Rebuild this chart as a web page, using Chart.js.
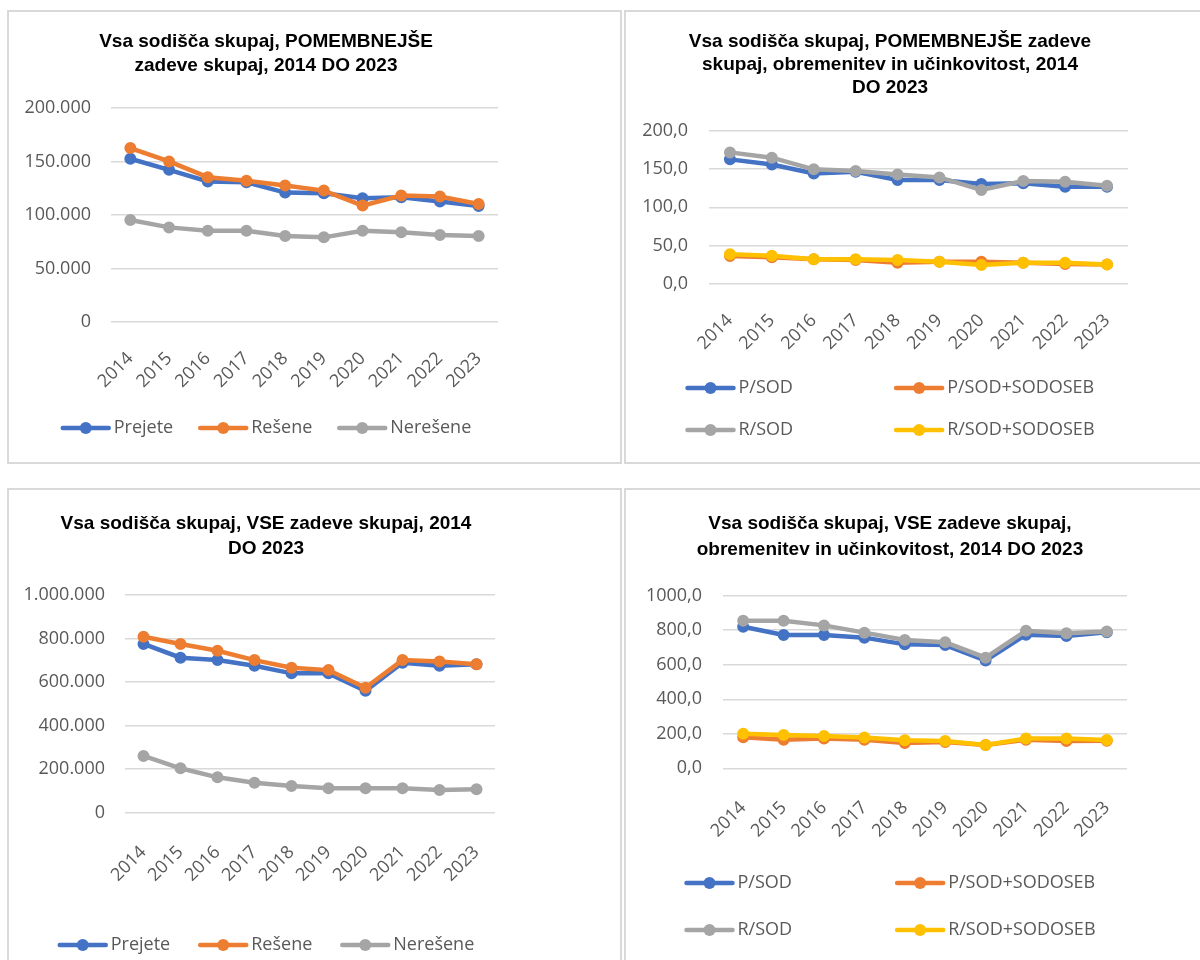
<!DOCTYPE html>
<html>
<head>
<meta charset="utf-8">
<script src="https://cdn.jsdelivr.net/npm/chart.js@4"></script>
<style>
  html, body { margin: 0; padding: 0; background: #fff; }
  body { width: 1200px; height: 960px; overflow: hidden; position: relative; }
  .frame { position: absolute; box-sizing: border-box; border: 2px solid #d9d9d9; background: #fff; }
  canvas { position: absolute; }
</style>
</head>
<body>
<div class="frame" style="left:7px;top:10px;width:615px;height:454px"></div>
<div class="frame" style="left:624px;top:10px;width:600px;height:454px"></div>
<div class="frame" style="left:7px;top:488px;width:615px;height:500px"></div>
<div class="frame" style="left:624px;top:488px;width:600px;height:500px"></div>

<canvas id="chart1" width="512" height="450" style="left:10px;top:13px"></canvas>
<canvas id="chart2" width="528" height="450" style="left:626px;top:13px"></canvas>
<canvas id="chart3" width="512" height="469" style="left:10px;top:491px"></canvas>
<canvas id="chart4" width="528" height="469" style="left:626px;top:491px"></canvas>

<script>
// categories
const years = ['2014', '2015', '2016', '2017', '2018', '2019', '2020', '2021', '2022', '2023'];

// POMEMBNEJSE zadeve
const prejetePom = [152500, 142200, 131300, 130600, 120900, 120300, 115600, 116500, 112500, 108400];
const resenePom = [162500, 150000, 135300, 131900, 127500, 122800, 108800, 118100, 117200, 110300];
const nerresenePom = [95300, 88400, 85300, 85300, 80300, 79100, 85300, 83800, 81300, 80300];

// POMEMBNEJSE obremenitev in ucinkovitost
const pSodPom = [162.6, 156.0, 144.3, 146.5, 135.7, 135.7, 130.4, 131.3, 127.0, 127.0];
const pSodSebPom = [36.5, 34.8, 32.2, 31.3, 27.8, 29.0, 29.0, 27.8, 26.0, 25.6];
const rSodPom = [171.7, 164.8, 149.6, 147.4, 143.0, 139.0, 122.6, 134.3, 133.5, 128.3];
const rSodSebPom = [38.7, 37.0, 32.2, 32.2, 31.3, 29.1, 24.8, 27.8, 27.8, 25.6];

// VSE zadeve
const prejeteVse = [775000, 712000, 701000, 675000, 640000, 640000, 560000, 689000, 675000, 682000];
const reseneVse = [808600, 775000, 744000, 701000, 666000, 655000, 574000, 701000, 694000, 682000];
const nereseneVse = [260500, 204000, 162500, 138000, 122700, 112000, 112000, 112000, 104000, 107500];

// VSE obremenitev in ucinkovitost
const pSodVse = [820, 772, 772, 757, 718, 714, 624, 774, 767, 788];
const pSodSebVse = [180, 166, 172, 166, 147, 152, 135, 166, 158, 160];
const rSodVse = [855, 855, 828, 786, 743, 730, 641, 797, 782, 792];
const rSodSebVse = [200, 193, 187, 178, 162, 158, 135, 172, 172, 164];

// y tick labels
const ticksPom = [0, 50000, 100000, 150000, 200000];
const ticksPomRate = [0, 50, 100, 150, 200];
const ticksVse = [0, 200000, 400000, 600000, 800000, 1000000];
const ticksVseRate = [0, 200, 400, 600, 800, 1000];

const BLUE = '#4472c4', ORANGE = '#ed7d31', GREY = '#a5a5a5', YELLOW = '#ffc000';
const TEXT_GREY = '#595959';
const TICK_FONT = { family: 'Open Sans', size: 18 };

function dots(v) { return String(v).replace(/\B(?=(\d{3})+(?!\d))/g, '.'); }
function comma1(v) { return Number(v).toFixed(1).replace('.', ','); }

// title centred on the whole canvas, not on the padded box
const centerTitle = {
    id: 'centerTitle',
    afterLayout(chart) {
        const t = chart.titleBlock;
        if (!t) return;
        t.left = 0;
        t.right = chart.width;
        t.width = chart.width;
    }
};

// legend like Excel: line with a marker, laid out in columns
const gridLegend = {
    id: 'gridLegend',
    afterDraw(chart, args, opts) {
        const ctx = chart.ctx;
        const sets = chart.data.datasets;
        const lineLen = 50, textGap = 3;
        ctx.save();
        ctx.font = '18px "Open Sans"';
        const widths = sets.map(ds => lineLen + textGap + ctx.measureText(ds.label).width);
        const colW = [];
        sets.forEach((ds, i) => {
            const c = i % opts.cols;
            colW[c] = Math.max(colW[c] || 0, widths[i]);
        });
        const total = colW.reduce((a, b) => a + b, 0) + opts.gap * (opts.cols - 1);
        const startX = chart.width / 2 - total / 2;
        sets.forEach((ds, i) => {
            const c = i % opts.cols;
            const r = Math.floor(i / opts.cols);
            let x = startX;
            for (let k = 0; k < c; k++) x += colW[k] + opts.gap;
            const y = opts.y + r * opts.rowH;
            ctx.strokeStyle = ds.borderColor;
            ctx.lineWidth = 4.5;
            ctx.lineCap = 'round';
            ctx.beginPath();
            ctx.moveTo(x + 2, y);
            ctx.lineTo(x + lineLen - 2, y);
            ctx.stroke();
            ctx.fillStyle = ds.borderColor;
            ctx.beginPath();
            ctx.arc(x + lineLen / 2, y, 6, 0, Math.PI * 2);
            ctx.fill();
            ctx.fillStyle = TEXT_GREY;
            ctx.textAlign = 'left';
            ctx.textBaseline = 'middle';
            ctx.fillText(ds.label, x + lineLen + textGap, y);
        });
        ctx.restore();
    }
};

function makeChart(id, p) {
    const n = p.series.length;
    return new Chart(document.getElementById(id), {
        type: 'line',
        data: {
            labels: years,
            datasets: p.series.map((s, i) => ({
                label: s.label,
                data: s.data,
                borderColor: s.color,
                backgroundColor: s.color,
                pointBackgroundColor: s.color,
                pointBorderColor: s.color,
                borderWidth: 4.5,
                pointRadius: 5,
                pointBorderWidth: 2,
                tension: 0,
                order: n - i
            }))
        },
        options: {
            responsive: false,
            animation: false,
            layout: { padding: { left: 0, top: 0, right: p.side, bottom: p.padBottom } },
            plugins: {
                legend: { display: false },
                tooltip: { enabled: false },
                title: {
                    display: true,
                    text: p.title,
                    color: '#000',
                    font: { family: 'Liberation Sans', weight: 'bold', size: 19, lineHeight: p.titleLH + 'px' },
                    padding: { top: p.titleTop, bottom: p.titleBottom }
                },
                gridLegend: { cols: p.cols, gap: p.gap, y: p.legendY, rowH: p.rowH }
            },
            scales: {
                x: {
                    offset: true,
                    grid: { display: false, drawTicks: false },
                    border: { display: false },
                    ticks: {
                        color: TEXT_GREY, font: TICK_FONT,
                        minRotation: 45, maxRotation: 45,
                        autoSkip: false, padding: p.xPad
                    },
                    afterFit: s => { s.height = 80; }
                },
                y: {
                    min: 0,
                    max: p.ticks[p.ticks.length - 1],
                    afterBuildTicks: s => { s.ticks = p.ticks.map(v => ({ value: v })); },
                    grid: { color: '#d9d9d9', lineWidth: 1.5, drawTicks: false },
                    border: { display: false },
                    ticks: { color: TEXT_GREY, font: TICK_FONT, padding: p.yPad, callback: p.fmt },
                    afterFit: s => { s.width = p.plotLeft; }
                }
            }
        },
        plugins: [centerTitle, gridLegend]
    });
}

document.addEventListener('DOMContentLoaded', function () {
    makeChart('chart1', {
        title: ['Vsa sodišča skupaj, POMEMBNEJŠE', 'zadeve skupaj, 2014 DO 2023'],
        titleLH: 23.3, titleTop: 17.35, titleBottom: 31,
        series: [
            { label: 'Prejete', data: prejetePom, color: BLUE },
            { label: 'Rešene', data: resenePom, color: ORANGE },
            { label: 'Nerešene', data: nerresenePom, color: GREY }
        ],
        ticks: ticksPom, fmt: dots,
        plotLeft: 101, side: 24, yPad: 20, xPad: 26, padBottom: 61,
        cols: 3, gap: 25, legendY: 415, rowH: 0
    });

    makeChart('chart2', {
        title: ['Vsa sodišča skupaj, POMEMBNEJŠE zadeve', 'skupaj, obremenitev in učinkovitost, 2014', 'DO 2023'],
        titleLH: 23, titleTop: 17.5, titleBottom: 31.2,
        series: [
            { label: 'P/SOD', data: pSodPom, color: BLUE },
            { label: 'P/SOD+SODOSEB', data: pSodSebPom, color: ORANGE },
            { label: 'R/SOD', data: rSodPom, color: GREY },
            { label: 'R/SOD+SODOSEB', data: rSodSebPom, color: YELLOW }
        ],
        ticks: ticksPomRate, fmt: comma1,
        plotLeft: 83, side: 26, yPad: 21, xPad: 26, padBottom: 99,
        cols: 2, gap: 101, legendY: 375, rowH: 42
    });

    makeChart('chart3', {
        title: ['Vsa sodišča skupaj, VSE zadeve skupaj, 2014', 'DO 2023'],
        titleLH: 25.5, titleTop: 19.75, titleBottom: 33.25,
        series: [
            { label: 'Prejete', data: prejeteVse, color: BLUE },
            { label: 'Rešene', data: reseneVse, color: ORANGE },
            { label: 'Nerešene', data: nereseneVse, color: GREY }
        ],
        ticks: ticksVse, fmt: dots,
        plotLeft: 115, side: 24, yPad: 20, xPad: 29, padBottom: 67.3,
        cols: 3, gap: 28, legendY: 454, rowH: 0
    });

    makeChart('chart4', {
        title: ['Vsa sodišča skupaj, VSE zadeve skupaj,', 'obremenitev in učinkovitost, 2014 DO 2023'],
        titleLH: 25.5, titleTop: 20.25, titleBottom: 33.45,
        series: [
            { label: 'P/SOD', data: pSodVse, color: BLUE },
            { label: 'P/SOD+SODOSEB', data: pSodSebVse, color: ORANGE },
            { label: 'R/SOD', data: rSodVse, color: GREY },
            { label: 'R/SOD+SODOSEB', data: rSodSebVse, color: YELLOW }
        ],
        ticks: ticksVseRate, fmt: comma1,
        plotLeft: 97, side: 27, yPad: 21, xPad: 29, padBottom: 111.7,
        cols: 2, gap: 103, legendY: 392, rowH: 47
    });
});
</script>
</body>
</html>
